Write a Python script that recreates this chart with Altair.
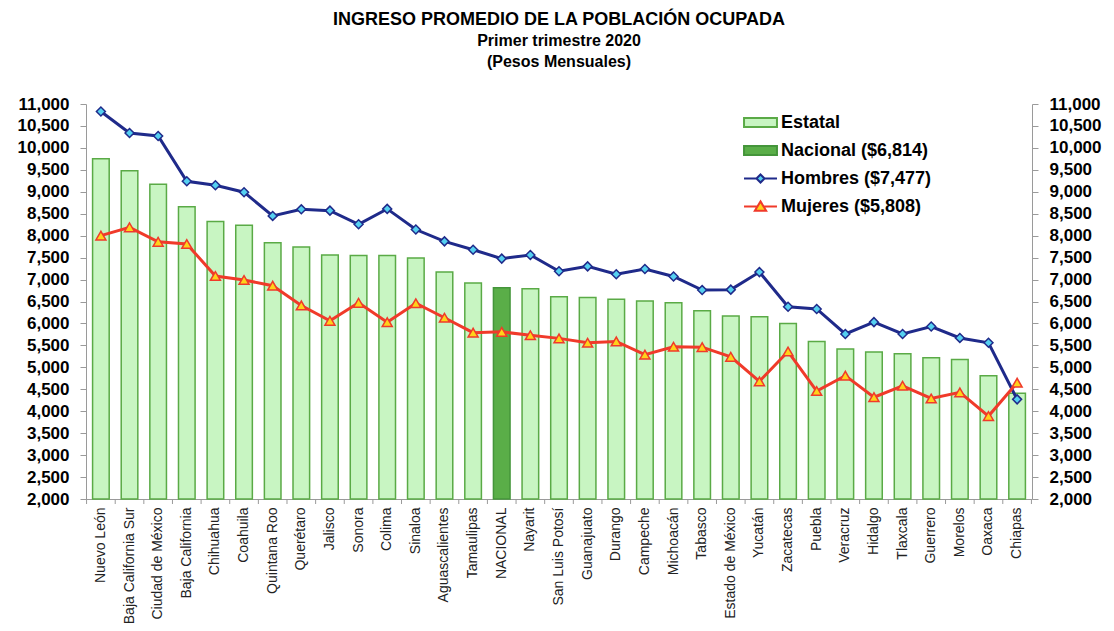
import altair as alt
import pandas as pd

estados = ["Nuevo León", "Baja California Sur", "Ciudad de México", "Baja California",
           "Chihuahua", "Coahuila", "Quintana Roo", "Querétaro", "Jalisco", "Sonora",
           "Colima", "Sinaloa", "Aguascalientes", "Tamaulipas", "NACIONAL", "Nayarit",
           "San Luis Potosí", "Guanajuato", "Durango", "Campeche", "Michoacán", "Tabasco",
           "Estado de México", "Yucatán", "Zacatecas", "Puebla", "Veracruz", "Hidalgo",
           "Tlaxcala", "Guerrero", "Morelos", "Oaxaca", "Chiapas"]

estatal = [9750, 9480, 9170, 8660, 8320, 8240, 7840, 7740, 7560, 7550, 7550, 7490, 7170,
           6920, 6814, 6790, 6610, 6590, 6550, 6510, 6470, 6290, 6170, 6150, 6000, 5590,
           5420, 5350, 5310, 5220, 5180, 4810, 4410]

hombres = [10830, 10340, 10270, 9240, 9150, 8990, 8450, 8600, 8570, 8260, 8610, 8140, 7870,
           7680, 7477, 7560, 7190, 7300, 7120, 7240, 7070, 6760, 6770, 7170, 6380, 6330,
           5760, 6030, 5760, 5930, 5670, 5560, 4270]

mujeres = [8000, 8190, 7860, 7810, 7080, 6990, 6860, 6410, 6060, 6470, 6030, 6460, 6130,
           5790, 5808, 5730, 5660, 5560, 5590, 5290, 5470, 5460, 5240, 4680, 5360, 4460,
           4810, 4320, 4580, 4290, 4430, 3890, 4650]

series = ["Estatal", "Nacional ($6,814)", "Hombres ($7,477)", "Mujeres ($5,808)"]
y_ticks = list(range(2000, 11001, 500))

FONT = "Liberation Sans"
fill_range = ["#c8f5c2", "#5aae48", "#55d0f0", "#ffd21a"]
stroke_range = ["#5aaa46", "#44953a", "#1f2a8a", "#f03a2a"]
shape_range = [
    "M-1.22,-0.33H1.22V0.33H-1.22Z",
    "M-1.22,-0.33H1.22V0.33H-1.22Z",
    "M-1.22,0H-0.3M0.3,0H1.22M0,-0.3L0.3,0L0,0.3L-0.3,0Z",
    "M-1.22,0H-0.2M0.2,0H1.22M0,-0.38L0.42,0.32L-0.42,0.32Z",
]

n = len(estados)
bars_df = pd.DataFrame({
    "estado": estados,
    "valor": estatal,
    "serie": [series[1] if e == "NACIONAL" else series[0] for e in estados],
    "orden": list(range(n)),
})
lines_df = pd.concat([
    pd.DataFrame({"estado": estados, "valor": hombres, "serie": series[2],
                  "orden": list(range(n))}),
    pd.DataFrame({"estado": estados, "valor": mujeres, "serie": series[3],
                  "orden": list(range(n))}),
])
legend_df = pd.DataFrame({"serie": series, "estado": [estados[0]] * 4,
                          "valor": [estatal[0]] * 4})

W, H = 946, 395
STEP = W / (n - 0.42 + 2 * 0.23)

xscale = alt.Scale(paddingInner=0.42, paddingOuter=0.23)
x_enc = alt.X("estado:N", sort=estados, scale=xscale, title=None,
              axis=alt.Axis(labelAngle=-90, labelFont=FONT, labelFontSize=14,
                            labelColor="#222222", ticks=False, tickSize=0,
                            labelPadding=8, domainColor="#9a9a9a", labelLimit=200))
x_plain = alt.X("estado:N", sort=estados, scale=xscale)

yscale = alt.Scale(domain=[2000, 11000], nice=False, zero=False)


def y_axis(orient):
    return alt.Axis(orient=orient, values=y_ticks, format=",.0f", labelFont=FONT,
                    labelFontSize=17, labelFontWeight="bold", labelColor="#000000",
                    domainColor="#9a9a9a", tickColor="#9a9a9a", tickSize=6,
                    labelPadding=11, grid=False, title=None)


fill_scale = alt.Scale(domain=series, range=fill_range)
stroke_scale = alt.Scale(domain=series, range=stroke_range)
shape_scale = alt.Scale(domain=series, range=shape_range)

leg = alt.Legend(
    title=None, orient="none", legendX=660, legendY=4, padding=0,
    labelFont=FONT, labelFontSize=18, labelFontWeight="bold", labelColor="#000000",
    symbolSize=729, symbolStrokeWidth=2, symbolOpacity=1, rowPadding=4, labelOffset=6,
    labelLimit=300)

legend = alt.Chart(legend_df).mark_point(
    filled=True, opacity=0, size=729).encode(
    x=x_plain, y=alt.Y("valor:Q", scale=yscale, axis=None),
    fill=alt.Fill("serie:N", scale=fill_scale, legend=leg),
    stroke=alt.Stroke("serie:N", scale=stroke_scale, legend=leg),
    shape=alt.Shape("serie:N", scale=shape_scale, legend=leg),
)

bars = alt.Chart(bars_df).mark_bar(strokeWidth=1.5).encode(
    x=x_enc,
    y=alt.Y("valor:Q", scale=yscale, axis=y_axis("left")),
    y2=alt.datum(2000),
    fill=alt.Fill("serie:N", scale=fill_scale),
    stroke=alt.Stroke("serie:N", scale=stroke_scale),
)

ticks = alt.Chart(bars_df).mark_rule(color="#9a9a9a", xOffset=-STEP / 2).encode(
    x=x_plain, y=alt.value(H), y2=alt.value(H + 5))
ticks_end = alt.Chart(bars_df).transform_filter(
    alt.datum.estado == "Chiapas").mark_rule(color="#9a9a9a", xOffset=STEP / 2).encode(
    x=x_plain, y=alt.value(H), y2=alt.value(H + 5))

line_h = alt.Chart(lines_df).transform_filter(alt.datum.serie == series[2]).mark_line(
    color="#1f2a8a", strokeWidth=3).encode(
    x=x_plain, y=alt.Y("valor:Q", scale=yscale, axis=y_axis("right")),
    order=alt.Order("orden:Q"))
line_m = alt.Chart(lines_df).transform_filter(alt.datum.serie == series[3]).mark_line(
    color="#f03a2a", strokeWidth=3).encode(
    x=x_plain, y=alt.Y("valor:Q", scale=yscale, axis=None),
    order=alt.Order("orden:Q"))
pts_h = alt.Chart(lines_df).transform_filter(alt.datum.serie == series[2]).mark_point(
    shape="diamond", filled=True, fill="#55d0f0", stroke="#1f2a8a", strokeWidth=1.5,
    size=80, opacity=1).encode(
    x=x_plain, y=alt.Y("valor:Q", scale=yscale, axis=None))
pts_m = alt.Chart(lines_df).transform_filter(alt.datum.serie == series[3]).mark_point(
    shape="triangle-up", filled=True, fill="#ffd21a", stroke="#f03a2a", strokeWidth=1.5,
    size=100, opacity=1).encode(
    x=x_plain, y=alt.Y("valor:Q", scale=yscale, axis=None))

chart = alt.layer(legend, bars, ticks, ticks_end, line_h, line_m, pts_h, pts_m).resolve_scale(
    y="independent"
).properties(
    width=W, height=H,
    title=alt.Title(
        "INGRESO PROMEDIO DE LA POBLACIÓN OCUPADA",
        subtitle=["Primer trimestre 2020", "(Pesos Mensuales)"],
        font=FONT, fontSize=18, fontWeight="bold", color="#000000",
        subtitleFont=FONT, subtitleFontSize=16, subtitleFontWeight="bold",
        subtitleColor="#000000", subtitlePadding=4, subtitleLineHeight=21,
        anchor="middle", offset=25,
    ),
    autosize=alt.AutoSizeParams(type="none"),
    padding={"left": 78, "top": 96, "right": 72, "bottom": 126},
).configure_view(stroke=None)

chart.save("out.html", embed_options={"renderer": "svg", "actions": False})
